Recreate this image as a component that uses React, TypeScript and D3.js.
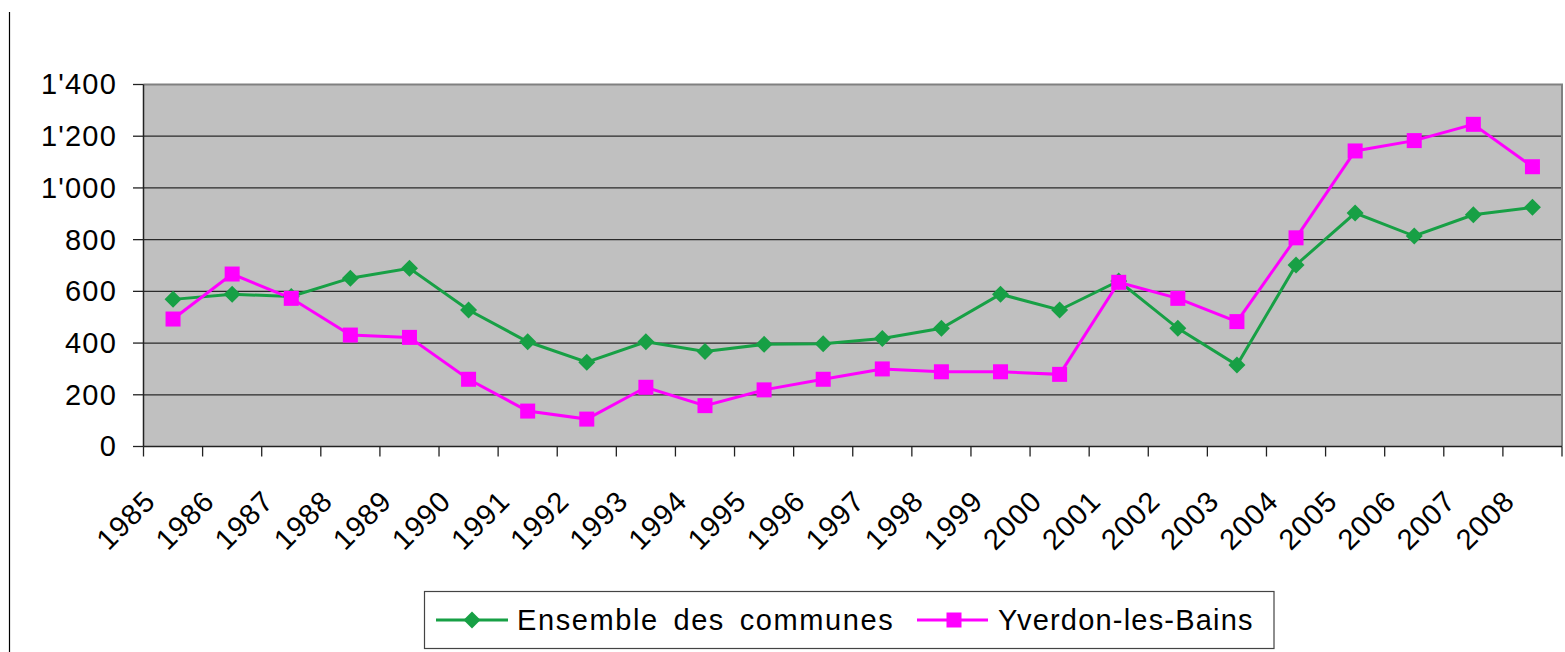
import React from "react";
import * as d3 from "d3";

const years = ["1985","1986","1987","1988","1989","1990","1991","1992","1993","1994","1995","1996","1997","1998","1999","2000","2001","2002","2003","2004","2005","2006","2007","2008"];
const ensemble = [569, 589, 580, 651, 689, 528, 405, 326, 405, 367, 395, 397, 418, 457, 589, 528, 640, 457, 315, 702, 903, 814, 896, 925];
const yverdon = [493, 667, 573, 431, 422, 260, 137, 106, 229, 158, 219, 260, 300, 289, 289, 279, 635, 573, 483, 807, 1143, 1183, 1246, 1082];
const yTicks = [0, 200, 400, 600, 800, 1000, 1200, 1400];
const seriesNames = ["Ensemble des communes", "Yverdon-les-Bains"];

const GREEN = "#17a045";
const MAGENTA = "#ff00ff";
const FONT = "'Liberation Sans', Arial, sans-serif";

export default function App() {
  const left = 143.5, right = 1562, top = 84.5, bottom = 446.5;
  const x = d3.scaleBand().domain(years).range([left, right]);
  const y = d3.scaleLinear().domain([0, 1400]).range([bottom, top]);
  const cx = (yr: string) => (x(yr) as number) + x.bandwidth() / 2;
  const line = d3.line<number>().x((_, i) => cx(years[i])).y((v) => y(v));
  const fmt = (v: number) => (v >= 1000 ? `${Math.floor(v / 1000)}'${String(v % 1000).padStart(3, "0")}` : String(v));
  const bounds = [...years.map((yr) => x(yr) as number), right];

  const diamond = (px: number, py: number, r: number) => `M${px},${py - r}L${px + r},${py}L${px},${py + r}L${px - r},${py}Z`;

  return (
    <svg width={1565} height={652} style={{ position: "absolute", left: 0, top: 0, background: "#fff" }}>
      <line x1={9.5} x2={9.5} y1={12} y2={652} stroke="#000" strokeWidth={1.2} />
      <rect x={left} y={top} width={right - left} height={bottom - top} fill="#c0c0c0" />
      {yTicks.filter((t) => t > 0 && t < 1400).map((t) => (
        <line key={t} x1={left} x2={right} y1={y(t)} y2={y(t)} stroke="#2a2a2a" strokeWidth={1.3} />
      ))}
      <path d={`M${left},${top}H${right}V${bottom}`} fill="none" stroke="#808080" strokeWidth={2} />
      <line x1={left} x2={left} y1={top} y2={bottom} stroke="#222" strokeWidth={1.5} />
      <line x1={left} x2={right} y1={bottom} y2={bottom} stroke="#222" strokeWidth={1.5} />
      {yTicks.map((t) => (
        <g key={t}>
          <line x1={133} x2={left} y1={y(t)} y2={y(t)} stroke="#222" strokeWidth={1.3} />
          <text x={117} y={y(t)} dy="0.34em" textAnchor="end" fontFamily={FONT} fontSize={29} letterSpacing={1.2} fill="#000">
            {fmt(t)}
          </text>
        </g>
      ))}
      {bounds.map((b, i) => (
        <line key={i} x1={b} x2={b} y1={bottom} y2={bottom + 10} stroke="#222" strokeWidth={1.3} />
      ))}
      {years.map((yr) => {
        const px = cx(yr) - 16, py = 503;
        return (
          <text key={yr} x={px} y={py} textAnchor="end" transform={`rotate(-45 ${px} ${py})`} fontFamily={FONT} fontSize={29} letterSpacing={1} fill="#000">
            {yr}
          </text>
        );
      })}
      <path d={line(ensemble) || ""} fill="none" stroke={GREEN} strokeWidth={3} />
      <path d={line(yverdon) || ""} fill="none" stroke={MAGENTA} strokeWidth={3} />
      {ensemble.map((v, i) => (
        <path key={i} d={diamond(cx(years[i]), y(v), 8.5)} fill={GREEN} />
      ))}
      {yverdon.map((v, i) => (
        <rect key={i} x={cx(years[i]) - 7.5} y={y(v) - 7.5} width={15} height={15} fill={MAGENTA} />
      ))}
      <rect x={424.5} y={591.5} width={849.5} height={57} fill="#fff" stroke="#444" strokeWidth={1.2} />
      <line x1={436} x2={508} y1={620} y2={620} stroke={GREEN} strokeWidth={3} />
      <path d={diamond(472, 620, 8.5)} fill={GREEN} />
      <text x={517} y={620} dy="0.35em" fontFamily={FONT} fontSize={29} letterSpacing={1.6} wordSpacing={5} fill="#000">
        {seriesNames[0]}
      </text>
      <line x1={917} x2={988} y1={620} y2={620} stroke={MAGENTA} strokeWidth={3} />
      <rect x={946.5} y={612.5} width={15} height={15} fill={MAGENTA} />
      <text x={998} y={620} dy="0.35em" fontFamily={FONT} fontSize={29} letterSpacing={1.2} fill="#000">
        {seriesNames[1]}
      </text>
    </svg>
  );
}
